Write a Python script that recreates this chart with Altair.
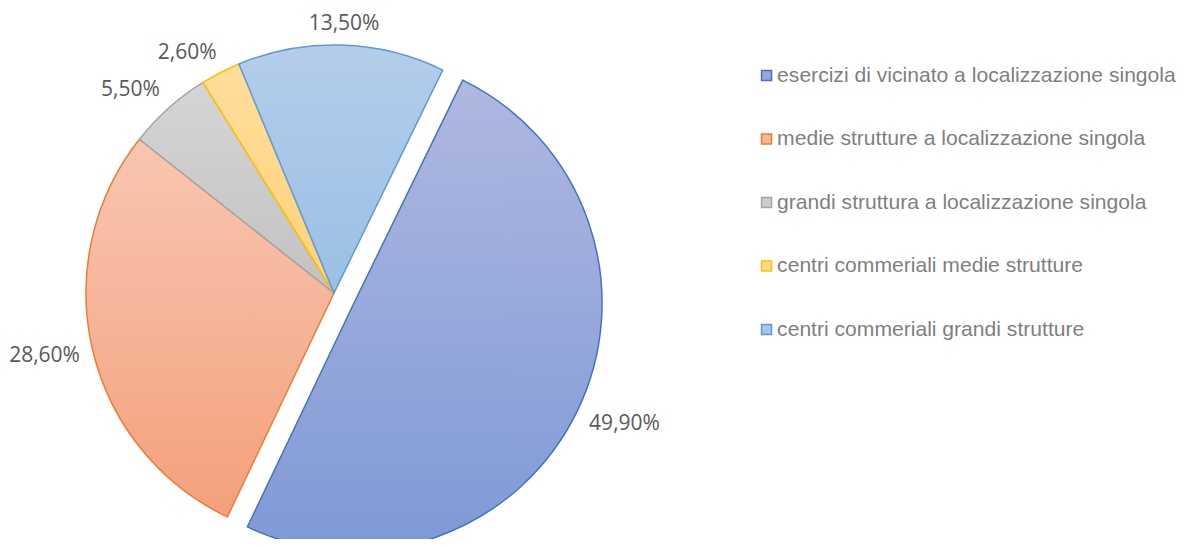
import math
import altair as alt
import pandas as pd

# ---- data ----
categories = [
    "esercizi di vicinato a localizzazione singola",
    "medie strutture a localizzazione singola",
    "grandi struttura a localizzazione singola",
    "centri commeriali medie strutture",
    "centri commeriali grandi strutture",
]
values = [49.9, 28.6, 5.5, 2.6, 13.5]
labels = ["49,90%", "28,60%", "5,50%", "2,60%", "13,50%"]
exploded = [True, False, False, False, False]

# ---- styles ----
edge_colors = ["#4472C4", "#ED7D31", "#A5A5A5", "#FFC000", "#5B9BD5"]
fill_top = ["#AFB8E0", "#F8C6B1", "#D5D5D5", "#FFDE9C", "#B4CDEA"]
fill_bottom = ["#7F99D6", "#F4A07C", "#C2C2C2", "#FFD177", "#9ABFE6"]
legend_fill = ["#97A8DB", "#F6B498", "#CCCCCC", "#FFD88C", "#A7C6E8"]

df = pd.DataFrame({"cat": categories, "value": values, "label": labels,
                   "order": list(range(len(categories)))})

W, H = 1170, 531
CX, CY = 326, 285          # pie centre (chart coords)
R = 248                    # pie radius
EX, EY = 20, 10            # explode offset of first slice
T0 = math.radians(26)      # start angle of first slice
GAP = 11                   # label gap from pie edge
HH = 10                    # half label height
CW = 6.2                   # half char width of labels

theta_scale = alt.Scale(domain=[0, 1], range=[T0, T0 + 2 * math.pi])

base = (
    alt.Chart(df)
    .transform_joinaggregate(total="sum(value)")
    .transform_window(cum="sum(value)", sort=[alt.SortField("order")])
    .transform_calculate(
        f1="datum.cum / datum.total",
        f0="(datum.cum - datum.value) / datum.total",
        fm="(datum.cum - datum.value / 2) / datum.total",
    )
)

layers = []
for i, cat in enumerate(categories):
    ox, oy = (EX, EY) if exploded[i] else (0, 0)
    grad = alt.Gradient(
        gradient="linear", x1=0, y1=0, x2=0, y2=1,
        stops=[alt.GradientStop(color=fill_top[i], offset=0),
               alt.GradientStop(color=fill_bottom[i], offset=1)],
    )
    sl = base.transform_filter(alt.datum.order == i)
    arc = sl.mark_arc(fill=grad, stroke=edge_colors[i], strokeWidth=1.5,
                      radius=R).encode(
        theta=alt.Theta("f0:Q", scale=theta_scale),
        theta2=alt.Theta2("f1:Q"),
        x=alt.value(CX + ox), y=alt.value(CY + oy),
    )
    txt = sl.transform_calculate(
        t=f"{T0} + datum.fm * 2 * PI",
    ).transform_calculate(
        lx=f"{CX + ox} + {R + GAP} * sin(datum.t) + {CW} * length(datum.label) * clamp(2 * sin(datum.t), -1, 1)",
        ly=f"{CY + oy} - {R + GAP} * cos(datum.t) - {HH} * clamp(2 * cos(datum.t), -1, 1)",
    ).mark_text(font="Open Sans", fontSize=21, color="#595959",
                align="center", baseline="middle").encode(
        x=alt.X("lx:Q", scale=None),
        y=alt.Y("ly:Q", scale=None),
        text="label:N",
    )
    layers += [arc, txt]

leg = alt.Legend(title=None, orient="none", legendX=748, legendY=57,
                 symbolType="square", symbolSize=100, symbolStrokeWidth=1.5,
                 symbolOpacity=1, labelFont="Liberation Sans", labelFontSize=21.1,
                 labelColor="#7F7F7F", labelOffset=0, labelLimit=0,
                 rowPadding=41.5)
legend_layer = base.mark_arc(opacity=0, radius=1).encode(
    theta=alt.Theta("f0:Q", scale=theta_scale),
    theta2=alt.Theta2("f1:Q"),
    fill=alt.Fill("cat:N", scale=alt.Scale(domain=categories, range=legend_fill),
                  legend=leg),
    stroke=alt.Stroke("cat:N", scale=alt.Scale(domain=categories, range=edge_colors),
                      legend=leg),
    x=alt.value(CX), y=alt.value(CY),
)

chart = alt.layer(legend_layer, *layers).properties(
    width=W, height=H, padding=0, autosize=alt.AutoSizeParams(type="none")
).configure_view(stroke=None)

chart.save("out.html", embed_options={"renderer": "svg", "actions": False})
